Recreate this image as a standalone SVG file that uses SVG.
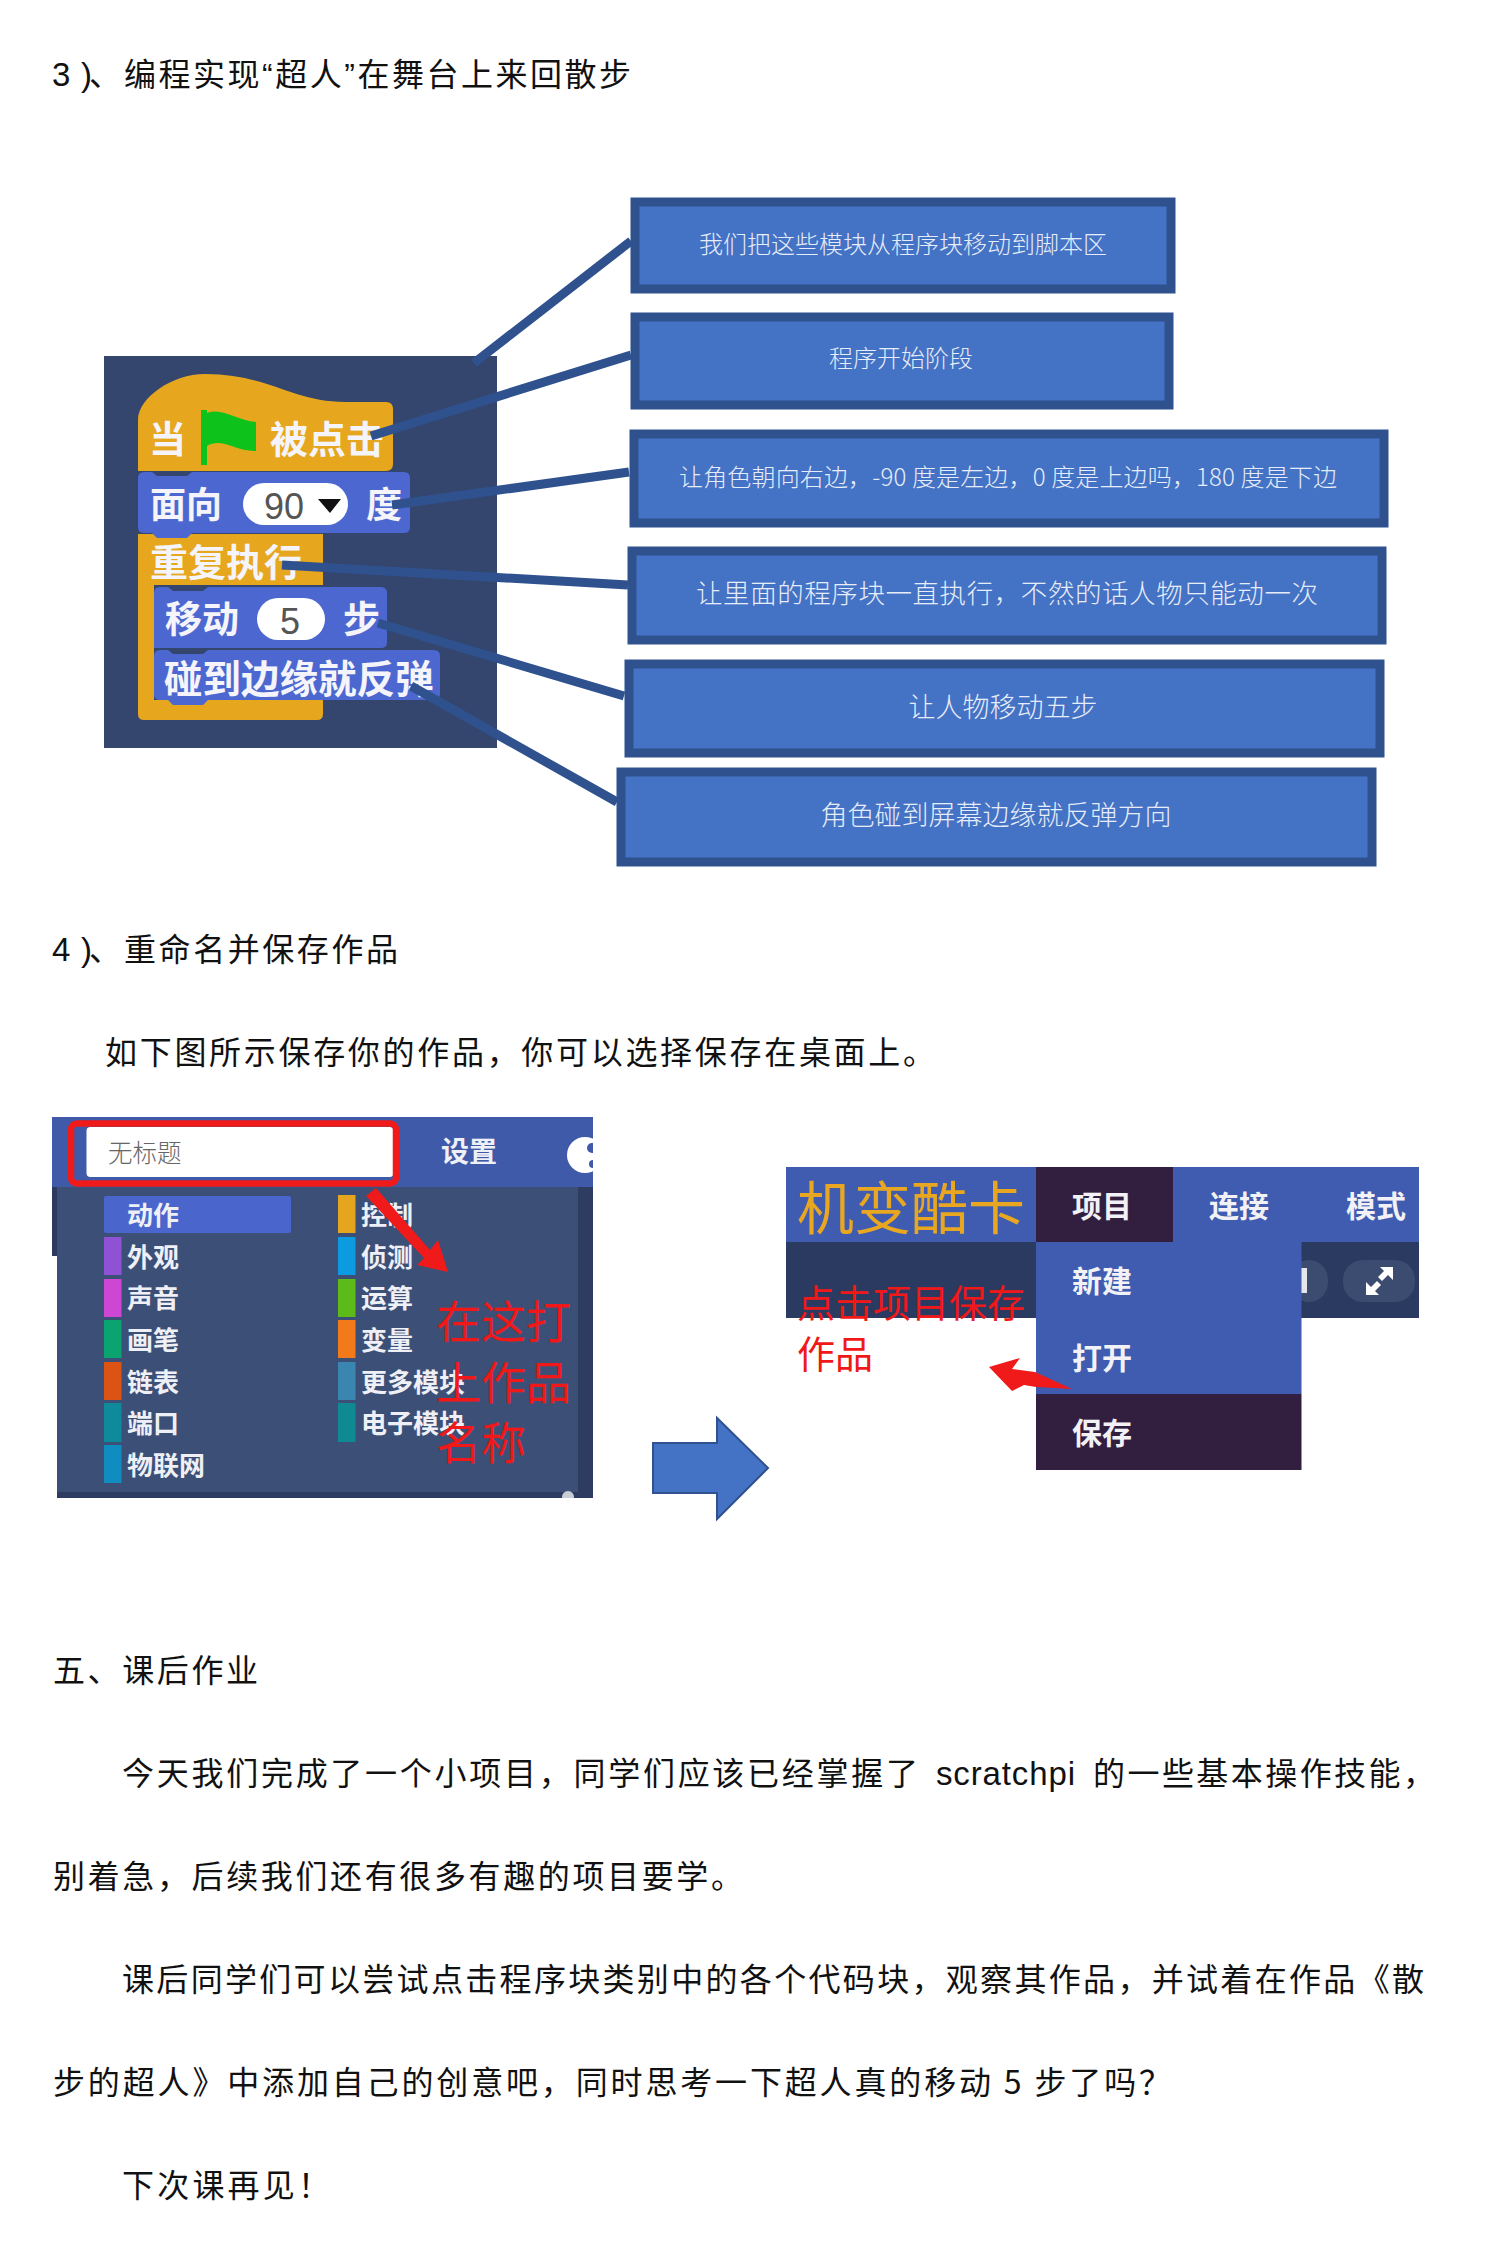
<svg xmlns="http://www.w3.org/2000/svg" width="1500" height="2262" viewBox="0 0 1500 2262">
<style>
text{font-family:"Liberation Sans","Noto Sans CJK SC",sans-serif}
.cjk{font-family:"Noto Sans CJK SC",sans-serif}
.body{font-size:32px;fill:#111}
.lat{font-size:33px;fill:#111}
.box{fill:#4472c4;stroke:#2f528f;stroke-width:9}
.bt{fill:#e6ecf8;text-anchor:middle;font-family:"Noto Sans CJK SC",sans-serif;font-weight:300}
.blk{fill:#f4f4fa;font-family:"Noto Sans CJK SC",sans-serif;font-weight:700}
.cat{fill:#eef0f6;font-family:"Noto Sans CJK SC",sans-serif;font-weight:700}
.red{fill:#f01818;font-family:"Noto Sans CJK SC",sans-serif;font-weight:400}
.menu{fill:#f2f2f6;font-family:"Noto Sans CJK SC",sans-serif;font-weight:700}
.or{fill:#e6a71f}.bl{fill:#4c68d0}
.conn line{stroke:#2f528f;stroke-width:9}
</style>
<defs><clipPath id="c1"><rect x="52" y="1117" width="541" height="381"/></clipPath></defs>
<rect width="1500" height="2262" fill="#fff"/>

<g id="headings">
<text class="lat" x="52" y="86" textLength="40">3 )</text>
<text class="body cjk" x="89" y="86">、</text>
<text class="body" x="124" y="86" textLength="507">编程实现“超人”在舞台上来回散步</text>
<text class="lat" x="52" y="961" textLength="40">4 )</text>
<text class="body cjk" x="89" y="961">、</text>
<text class="body cjk" x="124" y="961" textLength="274">重命名并保存作品</text>
<text class="body cjk" x="105" y="1064" textLength="830">如下图所示保存你的作品，你可以选择保存在桌面上。</text>
<text class="body cjk" x="53" y="1682" textLength="205">五、课后作业</text>
<text class="body cjk" x="122" y="1785" textLength="796">今天我们完成了一个小项目，同学们应该已经掌握了</text>
<text class="lat" x="936" y="1785" textLength="139">scratchpi</text>
<text class="body cjk" x="1093" y="1785" textLength="342">的一些基本操作技能，</text>
<text class="body cjk" x="53" y="1888" textLength="690">别着急，后续我们还有很多有趣的项目要学。</text>
<text class="body cjk" x="122" y="1991" textLength="1302">课后同学们可以尝试点击程序块类别中的各个代码块，观察其作品，并试着在作品《散</text>
<text class="body cjk" x="53" y="2094" textLength="1118">步的超人》中添加自己的创意吧，同时思考一下超人真的移动 5 步了吗？</text>
<text class="body cjk" x="122" y="2197" textLength="208">下次课再见！</text>
</g>

<g id="script-panel">
<rect x="104" y="356" width="393" height="392" fill="#34466e"/>
<path class="or" d="M138 471V420C138 398 172 374 205 374C268 374 292 402 345 402H386Q393 402 393 409V464Q393 471 386 471Z"/>
<text class="blk" x="149" y="453" style="font-size:37px">当</text>
<path d="M201 410H207V413C222 407 236 420 256 422V451C236 452 222 437 207 446V465H201Z" fill="#0dc21b"/>
<text class="blk" x="270" y="453" style="font-size:38px">被点击</text>
<path class="or" d="M138 534H323V585H138Z"/>
<path class="or" d="M138 534H154V700H323V714Q323 720 317 720H144Q138 720 138 714Z"/>
<path class="bl" d="M138 478Q138 472 144 472H152L157 476H187L192 472H404Q410 472 410 478V527Q410 533 404 533H192L187 538H157L152 533H144Q138 533 138 527Z"/>
<text class="blk" x="150" y="518" style="font-size:36px">面向</text>
<rect x="243" y="483" width="105" height="42" rx="21" fill="#fff"/>
<text x="264" y="519" font-size="36" fill="#555">90</text>
<path d="M318 499H341L330 513Z" fill="#111"/>
<text class="blk" x="366" y="518" style="font-size:36px">度</text>
<text class="blk" x="150" y="576" style="font-size:38px">重复执行</text>
<path class="bl" d="M154 593Q154 587 160 587H168L173 591H203L208 587H381Q387 587 387 593V642Q387 648 381 648H154Z"/>
<text class="blk" x="165" y="633" style="font-size:37px">移动</text>
<rect x="257" y="598" width="68" height="42" rx="21" fill="#fff"/>
<text x="280" y="634" font-size="36" fill="#555">5</text>
<text class="blk" x="343" y="633" style="font-size:37px">步</text>
<path class="bl" d="M154 656Q154 650 160 650H168L173 654H203L208 650H434Q440 650 440 656V694Q440 700 434 700H208L203 705H173L168 700H160Q154 700 154 694Z"/>
<text class="blk" x="164" y="693" style="font-size:38.500px">碰到边缘就反弹</text>
</g>

<g id="connectors" class="conn">
<line x1="631" y1="241" x2="474" y2="363"/>
<line x1="631" y1="355" x2="371" y2="436"/>
<line x1="629" y1="472" x2="392" y2="505"/>
<line x1="628" y1="585" x2="282" y2="565"/>
<line x1="624" y1="696" x2="378" y2="623"/>
<line x1="617" y1="802" x2="411" y2="686"/>
</g>

<g id="note-1"><rect class="box" x="635" y="202" width="536" height="87"/><text class="bt" x="903" y="253" font-size="24">我们把这些模块从程序块移动到脚本区</text></g>
<g id="note-2"><rect class="box" x="635" y="317" width="534" height="88"/><text class="bt" x="901" y="367" font-size="24">程序开始阶段</text></g>
<g id="note-3"><rect class="box" x="634" y="434" width="750" height="89"/><text class="bt" x="1008" y="486" font-size="24" textLength="658">让角色朝向右边，-90 度是左边，0 度是上边吗，180 度是下边</text></g>
<g id="note-4"><rect class="box" x="632" y="551" width="750" height="89"/><text class="bt" x="1007" y="603" font-size="26.500" textLength="622">让里面的程序块一直执行，不然的话人物只能动一次</text></g>
<g id="note-5"><rect class="box" x="629" y="664" width="751" height="89"/><text class="bt" x="1003" y="717" font-size="27">让人物移动五步</text></g>
<g id="note-6"><rect class="box" x="621" y="772" width="751" height="90"/><text class="bt" x="996" y="825" font-size="27">角色碰到屏幕边缘就反弹方向</text></g>

<g id="screenshot-palette">
<rect x="52" y="1117" width="541" height="70" fill="#3f5aa8"/>
<rect x="52" y="1187" width="5" height="69" fill="#2c3a60"/>
<rect x="57" y="1187" width="536" height="311" fill="#3c4f76"/>
<rect x="578" y="1187" width="15" height="311" fill="#2e3c62"/>
<rect x="57" y="1492" width="536" height="6" fill="#2e3c62"/>
<circle cx="568" cy="1497" r="6" fill="#c9ced6" clip-path="url(#c1)"/>
<rect x="86.500" y="1127" width="307" height="50" rx="4" fill="#fff"/>
<rect x="71" y="1123.500" width="325" height="60" rx="6" fill="none" stroke="#f01a1a" stroke-width="6.500"/>
<text x="108" y="1162" font-size="24.500" fill="#666" class="cjk" font-weight="300">无标题</text>
<text class="cat" x="441" y="1162" style="font-size:28px">设置</text>
<g clip-path="url(#c1)"><circle cx="585" cy="1155" r="18" fill="#fff"/><circle cx="592" cy="1148" r="5" fill="#3f5aa8"/><circle cx="593" cy="1164" r="4" fill="#3f5aa8"/></g>
<rect x="104" y="1196" width="187" height="37" rx="2" fill="#4a66cd"/>
<rect x="104" y="1237" width="17.500" height="38" fill="#8f52d5"/>
<rect x="104" y="1279" width="17.500" height="38" fill="#ce46d4"/>
<rect x="104" y="1320" width="17.500" height="38" fill="#0ba36f"/>
<rect x="104" y="1362" width="17.500" height="38" fill="#dd5313"/>
<rect x="104" y="1403" width="17.500" height="39" fill="#0f8a9a"/>
<rect x="104" y="1445" width="17.500" height="38" fill="#0f8cc0"/>
<rect x="338" y="1195" width="17.500" height="38" fill="#e6a51e"/>
<rect x="338" y="1237" width="17.500" height="38" fill="#0c9ae0"/>
<rect x="338" y="1279" width="17.500" height="38" fill="#5cbb18"/>
<rect x="338" y="1320" width="17.500" height="38" fill="#f27a1a"/>
<rect x="338" y="1362" width="17.500" height="38" fill="#3a86b0"/>
<rect x="338" y="1403" width="17.500" height="39" fill="#0f8a92"/>
<g style="font-size:26px">
<text class="cat" x="127" y="1225">动作</text>
<text class="cat" x="127" y="1267">外观</text>
<text class="cat" x="127" y="1308">声音</text>
<text class="cat" x="127" y="1350">画笔</text>
<text class="cat" x="127" y="1392">链表</text>
<text class="cat" x="127" y="1433">端口</text>
<text class="cat" x="127" y="1475">物联网</text>
<text class="cat" x="361" y="1225">控制</text>
<text class="cat" x="361" y="1267">侦测</text>
<text class="cat" x="361" y="1308">运算</text>
<text class="cat" x="361" y="1350">变量</text>
<text class="cat" x="361" y="1392">更多模块</text>
<text class="cat" x="361" y="1433">电子模块</text>
</g>
<path d="M366 1196L376 1188L430 1250L438 1240L448 1272L417 1265L424 1258Z" fill="#f01a1a"/>
<text class="red" x="436" y="1339" font-size="45">在这打</text>
<text class="red" x="436" y="1400" font-size="45">上作品</text>
<text class="red" x="436" y="1460" font-size="45">名称</text>
</g>

<g id="block-arrow"><path d="M653 1443H717V1418L768 1468L717 1519V1493H653Z" fill="#4472c4" stroke="#2f528f" stroke-width="2"/></g>

<g id="screenshot-menu">
<rect x="786" y="1167" width="633" height="75" fill="#3f5cb0"/>
<rect x="786" y="1242" width="633" height="76" fill="#2a3a60"/>
<rect x="1343" y="1260" width="72" height="42" rx="20" fill="#3c4c70"/>
<rect x="1290" y="1260" width="38" height="42" rx="20" fill="#3c4c70"/>
<rect x="1301" y="1268" width="6" height="25" fill="#e4e6ec"/>
<path d="M1380 1267H1393V1280L1388 1275L1382 1281L1378 1277L1384 1271ZM1366 1295V1282L1371 1287L1377 1281L1381 1285L1375 1291L1379 1295Z" fill="#fff"/>
<rect x="1036" y="1167" width="137" height="75" fill="#321f3f"/>
<rect x="1036" y="1242" width="265.500" height="152" fill="#3f5cb0"/>
<rect x="1036" y="1394" width="265.500" height="76" fill="#321f3f"/>
<text x="797" y="1229" font-size="57" fill="#e8a621" class="cjk" font-weight="400">机变酷卡</text>
<g style="font-size:30px">
<text class="menu" x="1072" y="1217">项目</text>
<text class="menu" x="1209" y="1217">连接</text>
<text class="menu" x="1346" y="1217">模式</text>
<text class="menu" x="1072" y="1292">新建</text>
<text class="menu" x="1072" y="1369">打开</text>
<text class="menu" x="1072" y="1444">保存</text>
</g>
<text class="red" x="797" y="1317" font-size="38">点击项目保存</text>
<text class="red" x="797" y="1368" font-size="38">作品</text>
<path d="M989 1367L1020 1358L1012 1369L1035 1372L1072 1389L1036 1387L1024 1385L1012 1391Z" fill="#f01a1a"/>
</g>
</svg>
